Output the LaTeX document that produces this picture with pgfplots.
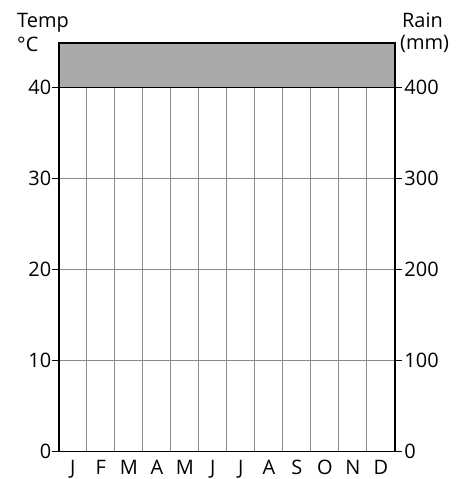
\documentclass[border=0pt]{standalone}
\usepackage{fontspec}
\setmainfont{Open Sans}
\usepackage{pgfplots}
\pgfplotsset{compat=1.18}
\definecolor{boxgray}{HTML}{AAAAAA}
\definecolor{gridgray}{HTML}{8A8A8A}
\begin{document}
\fontsize{15}{18}\selectfont
\begin{tikzpicture}
\begin{axis}[
  scale only axis, width=252.75pt, height=307.5pt,
  xmin=0, xmax=12, ymin=0, ymax=44.9,
  axis line style={black, line width=1pt},
  xtick={0.5,1.5,...,11.5},
  xticklabels={J,F,M,A,M,J,J,A,S,O,N,D},
  minor xtick={1,2,...,11},
  xtick style={draw=none},
  xminorgrids=true,
  minor grid style={gridgray, line width=0.7pt},
  ytick={0,10,20,30,40},
  ytick pos=left,
  tick align=outside,
  major tick length=5pt,
  ymajorgrids=true,
  major grid style={gridgray, line width=0.7pt},
  ytick style={draw=black, line width=0.8pt},
  /pgf/number format/assume math mode=true,
  tick label style={font=\fontsize{15}{18}\selectfont},
  yticklabel style={inner sep=0.5pt},
  xticklabel style={anchor=base, yshift=-12pt},
  clip=false,
]
\addplot[fill=boxgray, draw=black, line width=1pt] coordinates {(0,40) (12,40) (12,44.9) (0,44.9)} -- cycle;
\node[anchor=base west, inner sep=0pt] at ([xshift=-31.5pt, yshift=11.25pt]rel axis cs:0,1) {Temp};
\node[anchor=base west, inner sep=0pt] at ([xshift=-31.5pt, yshift=-6.75pt]rel axis cs:0,1) {°C};
\node[anchor=base west, inner sep=0pt] at ([xshift=5.25pt, yshift=11.25pt]rel axis cs:1,1) {Rain};
\node[anchor=base west, inner sep=0pt] at ([xshift=3.75pt, yshift=-5.25pt]rel axis cs:1,1) {(mm)};
\coordinate (bbll) at ([xshift=-44.25pt, yshift=-20.5pt]rel axis cs:0,0);
\coordinate (bbur) at ([xshift=52.5pt, yshift=32.25pt]rel axis cs:1,1);
\end{axis}
\begin{axis}[
  scale only axis, width=252.75pt, height=307.5pt,
  xmin=0, xmax=12, ymin=0, ymax=449,
  axis x line=none,
  axis y line*=right,
  axis line style={black, line width=1pt},
  ytick={0,100,200,300,400},
  tick align=outside,
  major tick length=5.5pt,
  ytick style={draw=black, line width=0.8pt},
  /pgf/number format/assume math mode=true,
  tick label style={font=\fontsize{15}{18}\selectfont},
  yticklabel style={inner sep=1.5pt},
]
\addplot[draw=none] coordinates {(0,0) (12,0)};
\end{axis}
\pgfresetboundingbox
\path (bbll) rectangle (bbur);
\end{tikzpicture}
\end{document}
